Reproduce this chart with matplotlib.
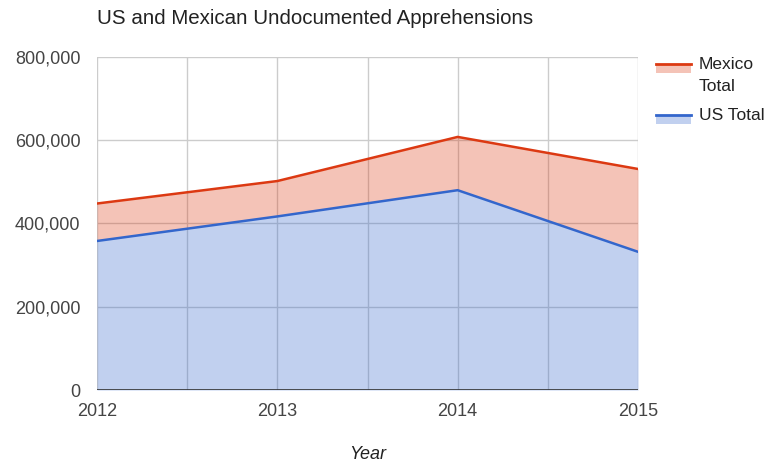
import matplotlib.pyplot as plt
from matplotlib.patches import Rectangle
from matplotlib.lines import Line2D
from matplotlib.ticker import FuncFormatter

years = [2012, 2013, 2014, 2015]
mexico_total = [448000, 502000, 608000, 531000]
us_total = [358000, 417000, 480000, 332000]

red = '#DC3912'
blue = '#3366CC'

plt.rcParams['font.family'] = ['Liberation Sans', 'DejaVu Sans']

fig = plt.figure(figsize=(7.77, 4.65), dpi=100)
ax = fig.add_axes([97 / 777, 1 - 390 / 465, 541 / 777, 333 / 465])

# gridlines under the areas so they show through the translucent fill
for x in [2012, 2012.5, 2013, 2013.5, 2014, 2014.5, 2015]:
    ax.axvline(x, color='#CCCCCC', lw=1, zorder=0)
for y in [200000, 400000, 600000, 800000]:
    ax.axhline(y, color='#CCCCCC', lw=1, zorder=0)

ax.fill_between(years, us_total, mexico_total, color=red, alpha=0.3, lw=0, zorder=1)
ax.fill_between(years, 0, us_total, color=blue, alpha=0.3, lw=0, zorder=1)
ax.plot(years, mexico_total, color=red, lw=1.8, zorder=3)
ax.plot(years, us_total, color=blue, lw=1.8, zorder=3)
ax.axhline(0, color='#333333', lw=1.2, zorder=4)

ax.set_xlim(2012, 2015)
ax.set_ylim(0, 800000)
ax.set_xticks(years)
ax.set_yticks([0, 200000, 400000, 600000, 800000])
ax.yaxis.set_major_formatter(FuncFormatter(lambda v, p: f'{int(v):,}'))
ax.tick_params(length=0, labelsize=13, colors='#444444')
ax.tick_params(axis='y', pad=12)
ax.tick_params(axis='x', pad=9)
for s in ax.spines.values():
    s.set_visible(False)

ax.set_xlabel('Year', fontsize=13, style='italic', color='#222222', labelpad=19)
fig.text(97 / 777, 1 - 18 / 465, 'US and Mexican Undocumented Apprehensions',
         fontsize=14.8, color='#222222', va='center', ha='left')

# legend, drawn by hand in Google Charts style
for yy, col, label in [(64, red, 'Mexico\nTotal'), (115, blue, 'US Total')]:
    fig.add_artist(Rectangle((656 / 777, 1 - (yy + 9) / 465), 35 / 777, 9 / 465,
                             transform=fig.transFigure, color=col, alpha=0.3, lw=0))
    fig.add_artist(Line2D([656 / 777, 691 / 777], [1 - yy / 465, 1 - yy / 465],
                          transform=fig.transFigure, color=col, lw=2))
    fig.text(699 / 777, 1 - (yy - 7) / 465, label, fontsize=12.5, color='#222222',
             va='top', ha='left', linespacing=1.6)

fig.savefig('out.png', dpi=100)
